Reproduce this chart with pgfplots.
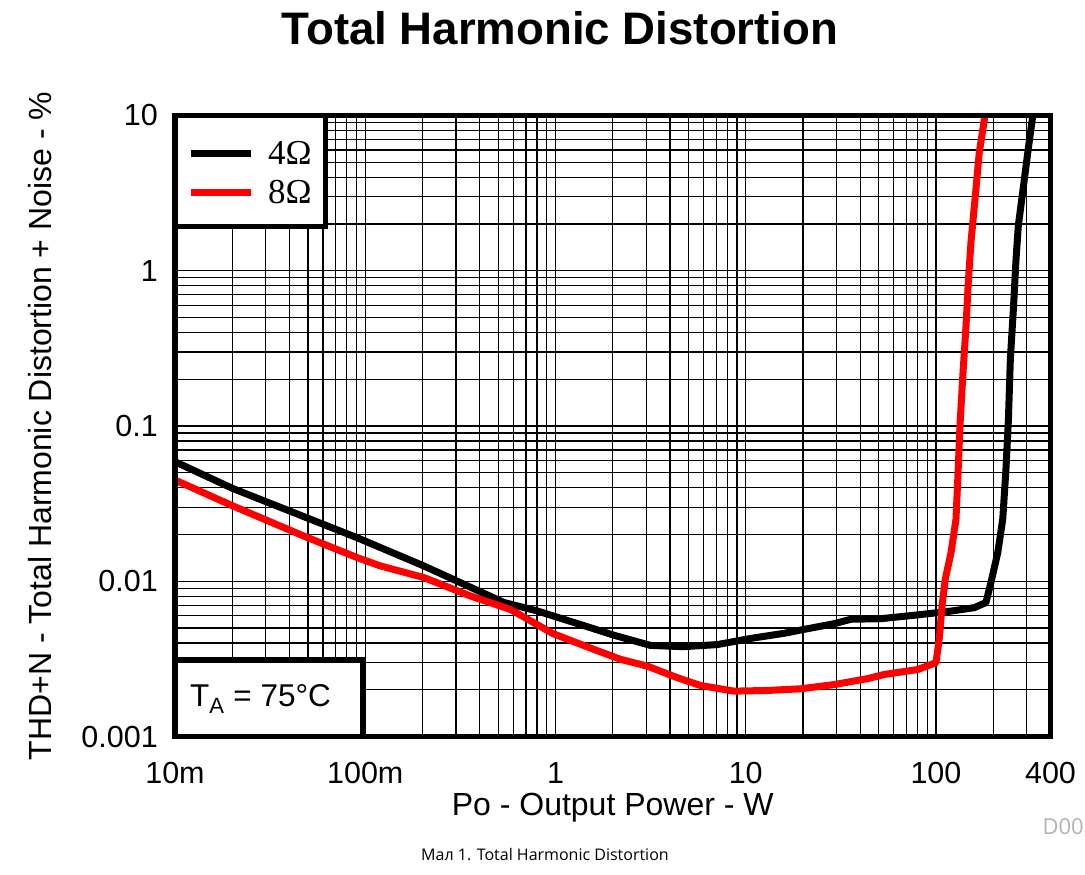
\documentclass[border=0pt]{standalone}
\usepackage{pgfplots}
\pgfplotsset{compat=1.18}
\usepackage{fontspec}
\setmainfont{Liberation Sans}
\newfontfamily\seriffont{Liberation Serif}
\newfontfamily\capfont{Open Sans}

\pgfplotstableread{
P T
0.01 0.0589
0.0201 0.0396
0.0904 0.0191
0.203 0.01256
0.535 0.00730
0.802 0.00644
1.528 0.00502
2.03 0.00449
3.16 0.00386
4.73 0.00379
7.10 0.00391
10.6 0.00428
15.9 0.00462
20.3 0.00490
29.2 0.00533
35.7 0.00569
51.4 0.00574
76.9 0.00604
115.3 0.00638
159.2 0.00676
183.2 0.00730
194.5 0.00982
211.3 0.01531
224.4 0.0251
233.3 0.0528
240.4 0.111
246.0 0.270
255.3 0.569
263.6 1.194
271.0 1.959
285.8 3.22
304.1 5.83
322.8 10
}\fourohm

\pgfplotstableread{
P T
0.01 0.0449
0.0201 0.0306
0.0473 0.0196
0.0904 0.01422
0.120 0.01256
0.203 0.01057
0.357 0.00804
0.579 0.00659
0.97 0.00460
1.592 0.00364
2.20 0.00314
3.04 0.00284
4.38 0.00239
5.79 0.00213
8.67 0.00196
13.0 0.00198
19.5 0.00203
29.2 0.00216
43.8 0.00236
53.5 0.00251
80.2 0.00270
100 0.00299
104.0 0.00423
107.6 0.00693
111.9 0.01030
120.0 0.01531
127.4 0.0251
130.9 0.0528
133.7 0.1005
138.4 0.211
143.9 0.444
147.9 0.845
152.8 1.531
161.1 3.06
169.0 5.83
181.1 10
}\eightohm

\begin{document}
\begin{tikzpicture}[x=1bp,y=1bp]
\useasboundingbox (0,0) rectangle (1085,875);
\node[font=\bfseries\fontsize{45.6bp}{52bp}\selectfont] at (560,847) {Total Harmonic Distortion};
\node[font=\capfont\fontsize{16bp}{19bp}\selectfont] at (545,20) {Мал 1. Total Harmonic Distortion};
\node[font=\capfont\fontsize{22bp}{26bp}\selectfont, text=black!30, anchor=base east, inner sep=0pt] at (1084,40) {D00};
\begin{axis}[
  at={(175bp,138.5bp)}, anchor=south west,
  scale only axis, width=875.5bp, height=621bp,
  xmode=log, ymode=log,
  xmin=0.01, xmax=400, ymin=0.001, ymax=10,
  xtick={0.01,0.02,0.03,0.04,0.05,0.06,0.07,0.08,0.09,
         0.1,0.2,0.3,0.4,0.5,0.6,0.7,0.8,0.9,
         1,2,3,4,5,6,7,8,9,
         10,20,30,40,50,60,70,80,90,
         100,200,300,400},
  xticklabels={10m,,,,,,,,,100m,,,,,,,,,1,,,,,,,,,10,,,,,,,,,100,,,400},
  ytick={0.001,0.002,0.003,0.004,0.005,0.006,0.007,0.008,0.009,
         0.01,0.02,0.03,0.04,0.05,0.06,0.07,0.08,0.09,
         0.1,0.2,0.3,0.4,0.5,0.6,0.7,0.8,0.9,
         1,2,3,4,5,6,7,8,9,10},
  yticklabels={0.001,,,,,,,,,0.01,,,,,,,,,0.1,,,,,,,,,1,,,,,,,,,10},
  minor xtick={}, minor ytick={},
  grid=major,
  major grid style={black, line width=1.3bp},
  major tick length=0pt, minor tick length=0pt,
  axis line style={draw=none},
  tick label style={font=\fontsize{30.5bp}{36bp}\selectfont, inner sep=0pt},
  xticklabel style={anchor=center, yshift=-36.5bp},
  yticklabel style={anchor=east, xshift=-17bp},
  xlabel={Po - Output Power - W},
  ylabel={THD+N - Total Harmonic Distortion + Noise - \%},
  label style={font=\fontsize{32bp}{38bp}\selectfont},
  xlabel style={at={(axis description cs:0.5,-0.1151)}, anchor=center},
  ylabel style={at={(axis description cs:-0.1542,0.5)}, anchor=center},
  clip mode=individual,
  legend style={draw=none, fill=none, at={(axis description cs:0.0103,0.962)}, anchor=north west,
    font=\seriffont\fontsize{35bp}{40bp}\selectfont, row sep=14bp,
    nodes={inner sep=0pt}, column sep=14bp},
  legend image code/.code={\draw[#1, line width=7bp] (0bp,0bp) -- (60bp,0bp);},
  legend cell align=left,
]
\addplot[black, line width=7bp, line join=round] table[x=P, y=T] {\fourohm};
\addlegendentry{4Ω}
\addplot[red, line width=7bp, line join=round] table[x=P, y=T] {\eightohm};
\addlegendentry{8Ω}
\draw[line width=5.5bp, fill=white] (rel axis cs:0,1) rectangle (rel axis cs:0.1719,0.8213);
\draw[line width=5.5bp, fill=white] (rel axis cs:0,0) rectangle (rel axis cs:0.2144,0.1232);
\node[anchor=base west, inner sep=0pt, font=\fontsize{31.5bp}{36bp}\selectfont] at (axis description cs:0.01713,0.048) {T\textsubscript{A} = 75°C};
\draw[line width=5.5bp] (rel axis cs:0,0) rectangle (rel axis cs:1,1);
\end{axis}
\end{tikzpicture}
\end{document}
